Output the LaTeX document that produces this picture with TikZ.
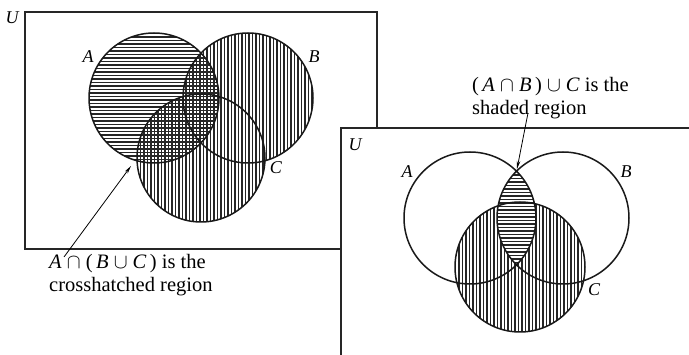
\documentclass[tikz,border=0pt]{standalone}
\usepackage{fontspec}
\setmainfont{Liberation Serif}
\usetikzlibrary{arrows.meta}
\tikzset{
  boxline/.style={line width=1.1pt, black!85},
  circ/.style={line width=1.5pt, black!90},
  hatch/.style={line width=1.05pt, black!85},
  lbl/.style={font=\fontsize{18}{18}\selectfont\itshape, inner sep=0pt},
  captext/.style={font=\fontsize{20.5}{23}\selectfont, inner sep=0pt, align=left, anchor=north west},
  arr/.style={line width=0.8pt, -{Stealth[length=8pt,width=3.5pt]}}
}
\begin{document}
\begin{tikzpicture}[x=1pt,y=-1pt]
\useasboundingbox (0,0) rectangle (689,355);
% ---------- left panel ----------
\draw[boxline] (25,12) rectangle (377,249);
\coordinate (lA) at (154,98);
\coordinate (lB) at (248,98);
\coordinate (lC) at (201,158);
\begin{scope}
  \clip (lA) circle (65);
  \foreach \y in {30,33.5,...,170} \draw[hatch] (80,\y) -- (230,\y);
\end{scope}
\begin{scope}
  \clip (lB) circle (65) (lC) circle (64);
  \foreach \x in {130,133.5,...,320} \draw[hatch] (\x,25) -- (\x,230);
\end{scope}
\draw[circ] (lA) circle (65) (lB) circle (65) (lC) circle (64);
\node[lbl] (lU) at (12,18) {U};
\node[lbl] (lAl) at (88,57) {A};
\node[lbl] (lBl) at (314,57) {B};
\node[lbl] (lCl) at (276,168) {C};
% ---------- right panel ----------
\fill[white] (341,128) rectangle (689,355);
\draw[boxline] (689,128) -- (341,128) -- (341,355);
\coordinate (rA) at (470,218);
\coordinate (rB) at (563,218);
\coordinate (rC) at (520,267);
\begin{scope}
  \clip (rC) circle (65);
  \foreach \x in {452,455.5,...,592} \draw[hatch] (\x,195) -- (\x,340);
\end{scope}
\begin{scope}
  \clip (rA) circle (66);
  \clip (rB) circle (66);
  \fill[white] (480,150) rectangle (560,290);
  \foreach \y in {168,171.5,...,270} \draw[hatch] (480,\y) -- (560,\y);
\end{scope}
\draw[circ] (rA) circle (66) (rB) circle (66) (rC) circle (65);
\node[lbl] (rU) at (355,145) {U};
\node[lbl] (rAl) at (407,172) {A};
\node[lbl] (rBl) at (626,172) {B};
\node[lbl] (rCl) at (594,290) {C};
% ---------- captions and arrows ----------
\node[captext] (capL) at (49,254) {\textit{A} $\cap$ (\,\textit{B} $\cup$ \textit{C}\,) is the\\crosshatched region};
\node[captext] (capR) at (472,77) {(\,\textit{A} $\cap$ \textit{B}\,) $\cup$ \textit{C} is the\\shaded region};
\coordinate (tailL) at (64,257);
\coordinate (tipL) at (131,166);
\coordinate (tailR) at (528,113);
\coordinate (tipR) at (517,169);
\draw[arr] (tailL) -- (tipL);
\draw[arr] (tailR) -- (tipR);
\end{tikzpicture}
\end{document}
